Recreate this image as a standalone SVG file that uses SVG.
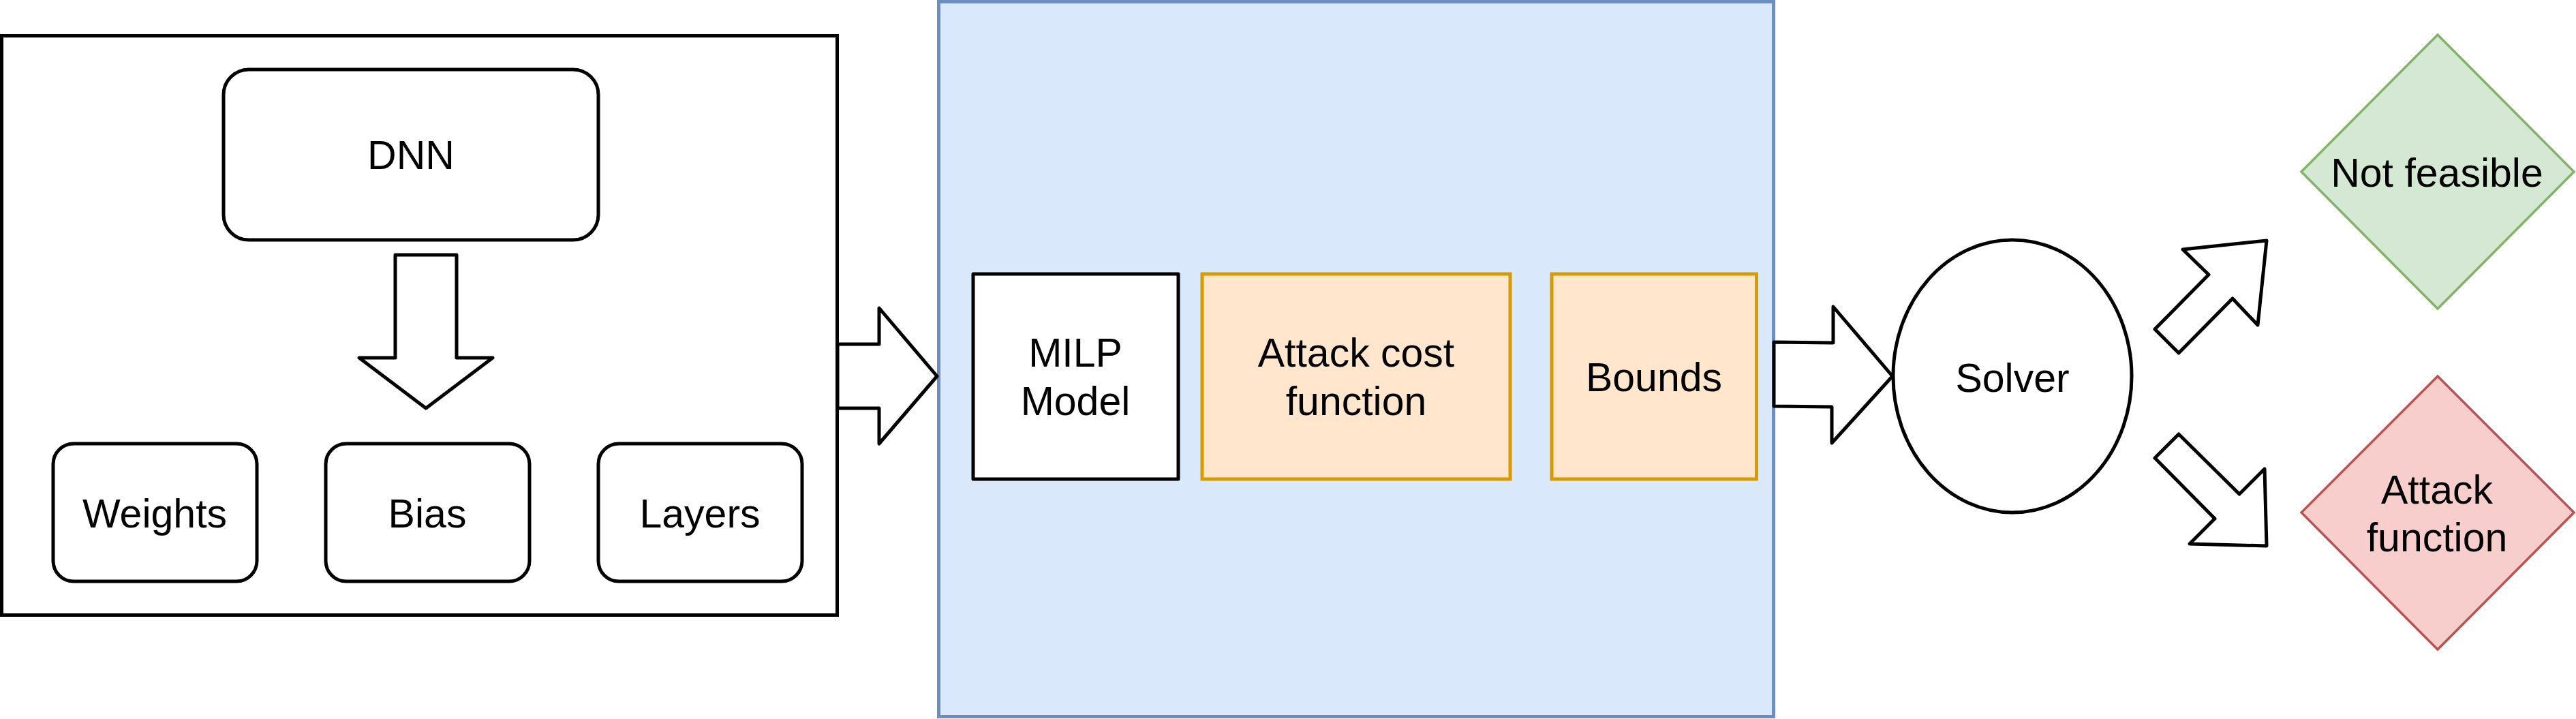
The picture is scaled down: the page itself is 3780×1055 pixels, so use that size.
<svg xmlns="http://www.w3.org/2000/svg" width="3780" height="1055" viewBox="0 0 3780 1055">
<style>
text{font-family:"Liberation Sans",Arial,Helvetica,sans-serif;font-size:59px;fill:#000;text-anchor:middle}
.blk{fill:#fff;stroke:#000;stroke-width:5;stroke-linejoin:round}
.arrow{fill:#fff;stroke:#000;stroke-width:5;stroke-linejoin:round}
.org{fill:#ffe6cc;stroke:#d79b00;stroke-width:5}
</style>
<rect width="3780" height="1055" fill="#fff"/>
<g id="dnn-container">
<rect x="2.5" y="52.5" width="1226" height="850" fill="#fff" stroke="#000" stroke-width="5"/>
</g>
<g id="milp-container">
<rect x="1377.5" y="2.5" width="1225" height="1049" fill="#dae8fc" stroke="#6c8ebf" stroke-width="5"/>
</g>
<g id="dnn"><rect class="blk" x="328" y="102" width="550" height="250" rx="37"/><text x="603" y="248">DNN</text></g>
<g id="weights"><rect class="blk" x="78" y="651" width="299" height="202" rx="30"/><text x="227" y="774">Weights</text></g>
<g id="bias"><rect class="blk" x="478" y="651" width="299" height="202" rx="30"/><text x="627" y="774">Bias</text></g>
<g id="layers"><rect class="blk" x="878" y="651" width="299" height="202" rx="30"/><text x="1027" y="774">Layers</text></g>
<g id="milp-model"><rect class="blk" x="1428" y="402" width="301" height="301"/><text x="1578" y="538">MILP</text><text x="1578" y="609">Model</text></g>
<g id="attack-cost"><rect class="org" x="1764" y="402" width="452" height="301"/><text x="1990" y="538">Attack cost</text><text x="1990" y="609">function</text></g>
<g id="bounds"><rect class="org" x="2277" y="402" width="300.5" height="301"/><text x="2427" y="574">Bounds</text></g>
<g id="solver"><ellipse cx="2953" cy="552" rx="175" ry="200" fill="#fff" stroke="#000" stroke-width="5"/><text x="2953" y="575">Solver</text></g>
<g id="not-feasible"><polygon points="3577,51 3777,252 3577,453 3377,252" fill="#d5e8d4" stroke="#82b366" stroke-width="3.5"/><text x="3576" y="274">Not feasible</text></g>
<g id="attack-function"><polygon points="3577,552 3777,752 3577,953 3377,752" fill="#f8cecc" stroke="#b85450" stroke-width="3.5"/><text x="3576" y="739">Attack</text><text x="3576" y="809">function</text></g>
<g id="connectors">
<polygon class="arrow" points="580,374 670,374 670,525 723,525 625,599 527,525 580,525"/>
<polygon class="arrow" points="1229,505 1290,505 1290,452 1375,552 1290,651 1290,599 1229,599"/>
<polygon class="arrow" points="2603,502 2690,503 2690,450 2777,552 2688,650 2688,597 2603,596"/>
<polygon class="arrow" points="3162,483 3241,403 3203,366 3326,353 3313,477 3276,438 3197,518"/>
<polygon class="arrow" points="3162,672 3197,637 3286,725 3323,688 3326,801 3213,798 3250,761"/>
</g>
</svg>
